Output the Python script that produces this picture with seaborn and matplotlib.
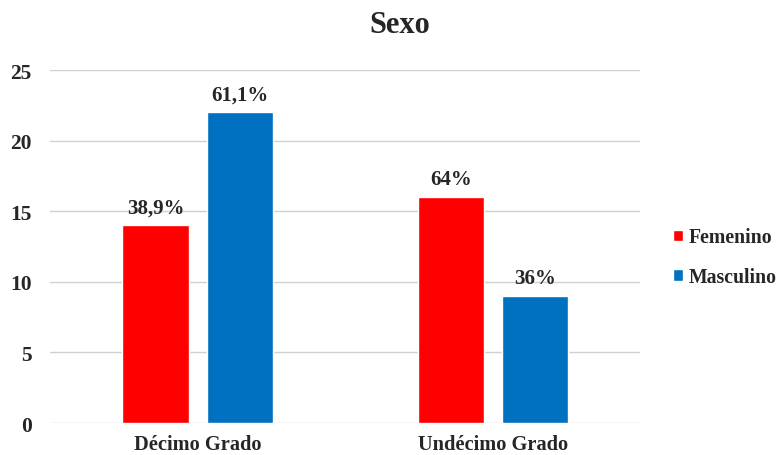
import matplotlib
matplotlib.use("Agg")
import matplotlib.pyplot as plt
import seaborn as sns
import pandas as pd

grados = ["Décimo Grado", "Undécimo Grado"]
sexos = ["Femenino", "Masculino"]
femenino = [14, 16]
masculino = [22, 9]
etiquetas_fem = ["38,9%", "64%"]
etiquetas_mas = ["61,1%", "36%"]
colores = ["#FF0000", "#0070C0"]

df = pd.DataFrame({
    "Grado": grados * 2,
    "Sexo": [sexos[0]] * 2 + [sexos[1]] * 2,
    "Valor": femenino + masculino,
    "Etiqueta": etiquetas_fem + etiquetas_mas,
})

sns.set_style("white")
plt.rcParams["font.family"] = ["Liberation Serif", "DejaVu Serif"]

fig = plt.figure(figsize=(7.8, 4.56), dpi=100)
ax = fig.add_axes([0.064, 0.070, 0.757, 0.774])

sns.barplot(data=df, x="Grado", y="Valor", hue="Sexo", hue_order=sexos,
            palette=colores, width=0.57, gap=0.214, ax=ax, saturation=1)

for cont, labs in zip(ax.containers, [etiquetas_fem, etiquetas_mas]):
    ax.bar_label(cont, labels=labs, padding=6, fontsize=15, fontweight="bold")

ax.set_ylim(0, 25)
ax.set_xlim(-0.5, 1.5)
ax.set_yticks([0, 5, 10, 15, 20, 25])
ax.yaxis.grid(True, color="#D0D0D0", linewidth=1)
ax.set_axisbelow(True)
for s in ax.spines.values():
    s.set_visible(False)
ax.tick_params(axis="y", length=0, labelsize=15.5, pad=13)
ax.tick_params(axis="x", length=0, labelsize=14.7, pad=8)
for t in ax.get_xticklabels() + ax.get_yticklabels():
    t.set_fontweight("bold")
ax.set_xlabel("")
ax.set_ylabel("")
fig.suptitle("Sexo", x=0.513, y=0.975, fontsize=22, fontweight="bold")

leg = ax.legend(loc="center left", bbox_to_anchor=(1.025, 0.47), frameon=False,
                prop={"weight": "bold", "size": 14.2}, handlelength=0.5,
                handleheight=0.5, handletextpad=0.3, labelspacing=1.0)

fig.savefig("out.png", dpi=100)
